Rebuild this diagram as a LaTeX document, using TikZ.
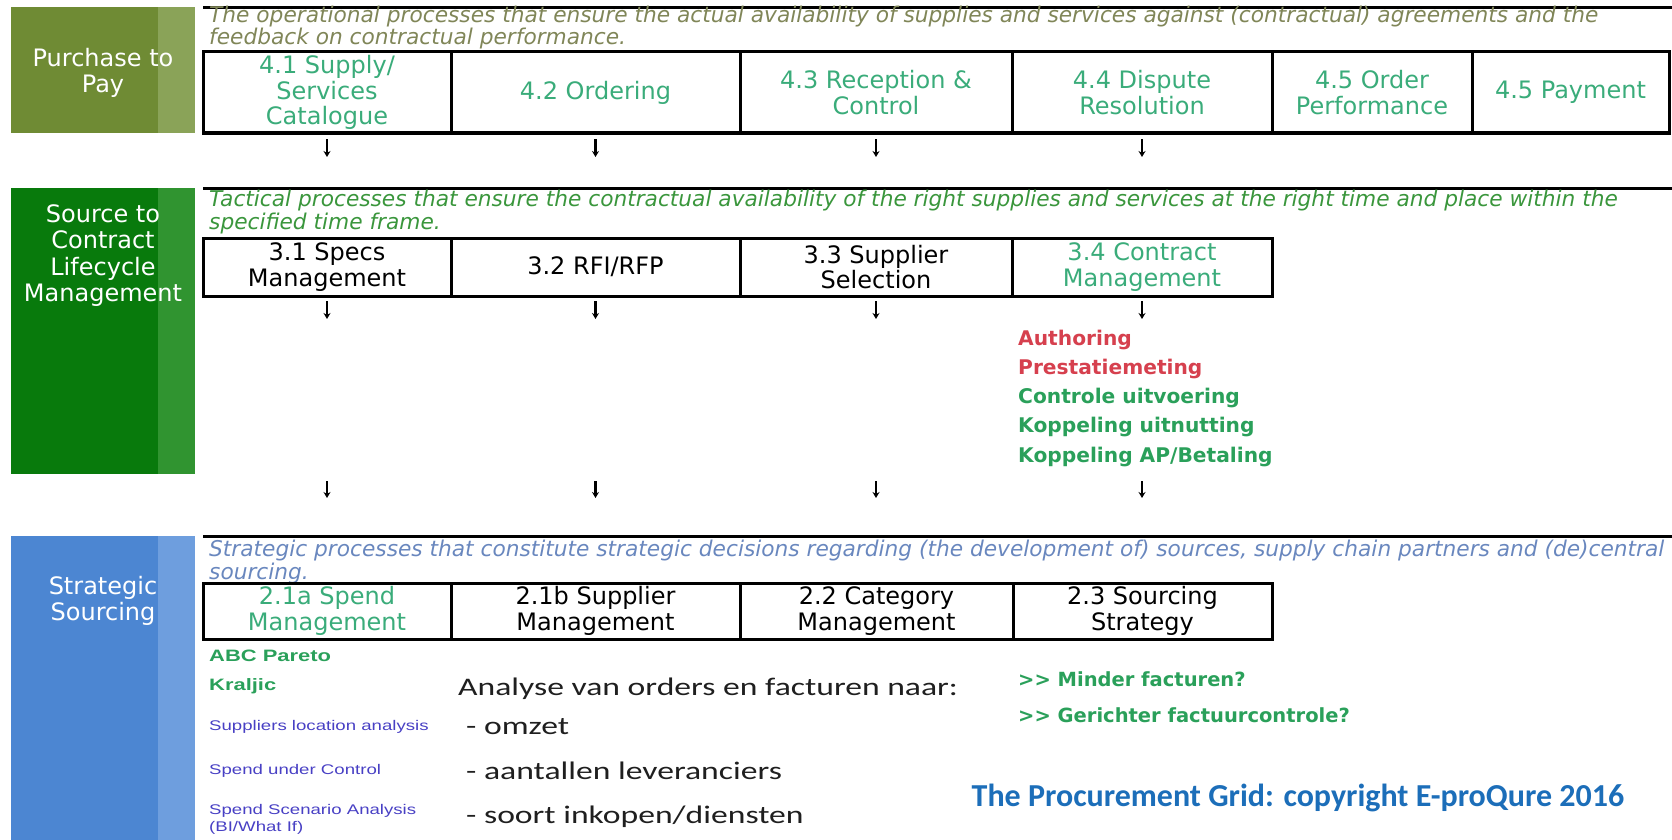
\documentclass[tikz,border=0pt]{standalone}
\usepackage{fontspec}
\setmainfont{DejaVu Sans}
\newfontfamily\arialwide[FakeStretch=1.33]{Liberation Sans}
\newfontfamily\calwide[FakeStretch=1.33]{Carlito}
\newfontfamily\calnarrow{Carlito}
\usepackage{tikz}
\usetikzlibrary{positioning,arrows.meta}

\definecolor{ppmain}{RGB}{111,139,52}
\definecolor{ppstrip}{RGB}{138,163,88}
\definecolor{scmain}{RGB}{8,122,12}
\definecolor{scstrip}{RGB}{48,148,48}
\definecolor{ssmain}{RGB}{76,134,210}
\definecolor{ssstrip}{RGB}{110,158,222}
\definecolor{tealtxt}{RGB}{58,172,122}
\definecolor{descpp}{RGB}{128,134,88}
\definecolor{descsc}{RGB}{58,150,60}
\definecolor{descss}{RGB}{105,135,190}
\definecolor{redtxt}{RGB}{214,64,78}
\definecolor{grntxt}{RGB}{42,160,90}
\definecolor{purptxt}{RGB}{72,64,196}
\definecolor{copyblue}{RGB}{28,110,185}

\begin{document}
\begin{tikzpicture}[x=1pt,y=-1pt,
	cell/.style={draw,line width=3pt,outer sep=0pt,inner sep=0pt,fill=white,align=center,font=\fontsize{24}{25.5}\selectfont},
	lanelabel/.style={align=center,text=white,font=\fontsize{24}{26.3}\selectfont},
	desc/.style={anchor=west,inner sep=0pt,font=\fontsize{21.7}{23}\selectfont\itshape},
	sublist/.style={anchor=west,inner sep=0pt,font=\fontsize{20.2}{24}\selectfont\bfseries},
	toolist/.style={anchor=west,inner sep=0pt,font=\arialwide\fontsize{14}{17}\selectfont,text=purptxt},
	analysis/.style={anchor=west,inner sep=0pt,font=\calwide\fontsize{25.3}{30}\selectfont,text=black!88},
	arr/.style={line width=2.2pt,-{Stealth[length=6pt,width=7pt]}}]
				\useasboundingbox (0,0) rectangle (1672,840);
				
				% lanes
				\fill[ppmain] (11,7) rectangle (158,133);
				\fill[ppstrip] (158,7) rectangle (195,133);
				\fill[scmain] (11,188) rectangle (158,474);
				\fill[scstrip] (158,188) rectangle (195,474);
				\fill[ssmain] (11,536) rectangle (158,840);
				\fill[ssstrip] (158,536) rectangle (195,840);
				\node[lanelabel] (ptp) at (103,73) {Purchase to\\Pay};
				\node[lanelabel] (stc) at (103,255.5) {Source to\\Contract\\Lifecycle\\Management};
				\node[lanelabel] (strat) at (103,601) {Strategic\\Sourcing};
				
				\draw[line width=3pt] (203,8) -- (1672,8);
				\draw[line width=3pt] (203,188) -- (1672,188);
				\draw[line width=3pt] (203,536) -- (1672,536);
				
				% purchase to pay
				\node[desc,text=descpp] (dpp1) at (209,17) {The operational processes that ensure the actual availability of supplies and services against (contractual) agreements and the};
				\node[desc,text=descpp] (dpp2) at (209,39) {feedback on contractual performance.};
				\node[cell,minimum width=248pt,minimum height=81pt,text=tealtxt] (p41) at (327,92.5) {4.1 Supply/\\Services\\Catalogue};
				\node[cell,minimum width=289pt,minimum height=81pt,text=tealtxt,right=0pt of p41] (p42) {4.2 Ordering};
				\node[cell,minimum width=272pt,minimum height=81pt,text=tealtxt,right=0pt of p42] (p43) {4.3 Reception \&\\Control};
				\node[cell,minimum width=260pt,minimum height=81pt,text=tealtxt,right=0pt of p43] (p44) {4.4 Dispute\\Resolution};
				\node[cell,minimum width=200pt,minimum height=81pt,text=tealtxt,right=0pt of p44] (p45) {4.5 Order\\Performance};
				\node[cell,minimum width=197pt,minimum height=81pt,text=tealtxt,right=0pt of p45] (p46) {4.5 Payment};
				\draw[arr] ([yshift=-6pt]p41.south) -- ++(0,-18pt);
				\draw[arr] ([yshift=-6pt]p42.south) -- ++(0,-18pt);
				\draw[arr] ([yshift=-6pt]p43.south) -- ++(0,-18pt);
				\draw[arr] ([yshift=-6pt]p44.south) -- ++(0,-18pt);
				
				% source to contract
				\node[desc,text=descsc] (dsc1) at (209,201) {Tactical processes that ensure the contractual availability of the right supplies and services at the right time and place within the};
				\node[desc,text=descsc] (dsc2) at (209,224) {specified time frame.};
				\node[cell,minimum width=248pt,minimum height=58pt] (s31) at (327,267) {3.1 Specs\\Management};
				\node[cell,minimum width=289pt,minimum height=58pt,right=0pt of s31] (s32) {3.2 RFI/RFP};
				\node[cell,minimum width=272pt,minimum height=58pt,right=0pt of s32] (s33) {3.3 Supplier\\Selection};
				\node[cell,minimum width=260pt,minimum height=58pt,text=tealtxt,right=0pt of s33] (s34) {3.4 Contract\\Management};
				\draw[arr] ([yshift=-5pt]s31.south) -- ++(0,-18pt);
				\draw[arr] ([yshift=-5pt]s32.south) -- ++(0,-18pt);
				\draw[arr] ([yshift=-5pt]s33.south) -- ++(0,-18pt);
				\draw[arr] ([yshift=-5pt]s34.south) -- ++(0,-18pt);
				\node[sublist,text=redtxt] (cm1) at (1018,340) {Authoring};
				\node[sublist,text=redtxt] (cm2) at (1018,369) {Prestatiemeting};
				\node[sublist,text=grntxt] (cm3) at (1018,398) {Controle uitvoering};
				\node[sublist,text=grntxt] (cm4) at (1018,427) {Koppeling uitnutting};
				\node[sublist,text=grntxt] (cm5) at (1018,457) {Koppeling AP/Betaling};
				\draw[arr] ([yshift=-185pt]s31.south) -- ++(0,-17pt);
				\draw[arr] ([yshift=-185pt]s32.south) -- ++(0,-17pt);
				\draw[arr] ([yshift=-185pt]s33.south) -- ++(0,-17pt);
				\draw[arr] ([yshift=-185pt]s34.south) -- ++(0,-17pt);
				
				% strategic sourcing
				\node[desc,text=descss] (dss1) at (209,551) {Strategic processes that constitute strategic decisions regarding (the development of) sources, supply chain partners and (de)central};
				\node[desc,text=descss] (dss2) at (209,574) {sourcing.};
				\node[cell,minimum width=248pt,minimum height=56pt,text=tealtxt] (g21a) at (327,611) {2.1a Spend\\Management};
				\node[cell,minimum width=289pt,minimum height=56pt,right=0pt of g21a] (g21b) {2.1b Supplier\\Management};
				\node[cell,minimum width=273pt,minimum height=56pt,right=0pt of g21b] (g22) {2.2 Category\\Management};
				\node[cell,minimum width=259pt,minimum height=56pt,right=0pt of g22] (g23) {2.3 Sourcing\\Strategy};
				\node[toolist,text=grntxt,font=\arialwide\fontsize{16.5}{20}\selectfont\bfseries] (abc) at (209,656) {ABC Pareto};
				\node[toolist,text=grntxt,font=\arialwide\fontsize{16.5}{20}\selectfont\bfseries] (kra) at (209,686) {Kraljic};
				\node[toolist] (sla) at (209,727) {Suppliers location analysis};
				\node[toolist] (suc) at (209,771) {Spend under Control};
				\node[toolist] (ssa) at (209,811) {Spend Scenario Analysis};
				\node[toolist] (bwi) at (209,828) {(BI/What If)};
				\node[analysis] (ana) at (458,689) {Analyse van orders en facturen naar:};
				\node[analysis] (omz) at (466,727) {- omzet};
				\node[analysis] (lev) at (466,771) {- aantallen leveranciers};
				\node[analysis] (srt) at (466,817) {- soort inkopen/diensten};
				\node[sublist,text=grntxt,font=\fontsize{19.5}{23}\selectfont\bfseries] (mf) at (1018,679) {>{}> Minder facturen?};
				\node[sublist,text=grntxt,font=\fontsize{19.5}{23}\selectfont\bfseries] (gf) at (1018,715) {>{}> Gerichter factuurcontrole?};
				\node[text=copyblue,font=\calnarrow\fontsize{32}{38}\selectfont\bfseries] (copy) at (1298,798) {The Procurement Grid: copyright E-proQure 2016};
\end{tikzpicture}
\end{document}
